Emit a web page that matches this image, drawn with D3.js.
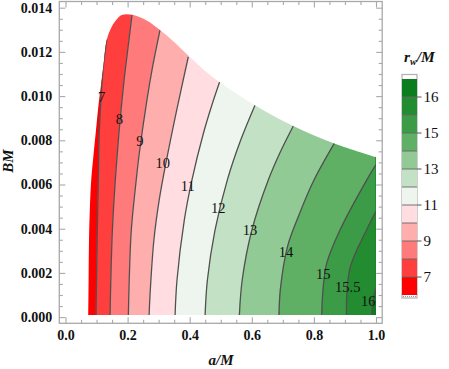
<!DOCTYPE html>
<html><head><meta charset="utf-8">
<script src="https://cdn.jsdelivr.net/npm/d3@7"></script>
<style>body{margin:0;background:#fff} svg{display:block}</style>
</head><body><svg id="c" width="449" height="369"></svg>
<script>
// ---------- data ----------
const levels = [7, 8, 9, 10, 11, 12, 13, 14, 15, 15.5, 16];
const bandColors = ["#FF0000","#FF3E3E","#FF7A7A","#FFAEAE","#FFDDE0","#EEF5EE",
                    "#C3E2C5","#92CA95","#5FAF65","#3C9B47","#238C31","#0B7D1F"];
// domain edge (left + top boundary), [a/M, BM]
const regionEdge = [[0.0734,0.0001],[0.0744,0.00168],[0.0757,0.00349],[0.0783,0.00485],
  [0.0828,0.0062],[0.0902,0.00734],[0.0982,0.00847],[0.1063,0.0096],[0.1143,0.0105],
  [0.1224,0.01141],[0.1327,0.01254],[0.1488,0.01314],[0.1659,0.01349],[0.1810,0.01367],
  [0.2184,0.01367],[0.2615,0.01342],[0.3043,0.01299],[0.3462,0.01249],[0.3903,0.01191],
  [0.4654,0.01096],[0.6103,0.00959],[0.7337,0.00865],[0.8657,0.00786],[1.0,0.00724]];
const regionBottom = 0.0001;
const contour7  = [[0.0982,0],[0.1014,0.00304],[0.1056,0.0062],[0.1079,0.00801],[0.1121,0.00937],
                   [0.1166,0.01043],[0.1217,0.01133],[0.1327,0.01257]];
const contour8  = [[0.1433,0],[0.1459,0.00168],[0.1510,0.00394],[0.1604,0.0062],[0.1720,0.00833],
                   [0.1829,0.00996],[0.1916,0.01109],[0.2023,0.01231],[0.2142,0.01367]];
const contour9  = [[0.2023,0],[0.2052,0.00168],[0.2119,0.00394],[0.2277,0.0062],[0.2390,0.00756],
                   [0.2622,0.00982],[0.2805,0.01133],[0.3043,0.01299]];
const contour10 = [[0.2689,0],[0.2731,0.00123],[0.2847,0.00349],[0.3018,0.0053],[0.3253,0.00711],
                   [0.3581,0.00937],[0.3955,0.01178]];
const contour11 = [[0.3527,0],[0.3591,0.00168],[0.3826,0.00439],[0.4071,0.0062],[0.4444,0.00833],
                   [0.4715,0.0096],[0.4969,0.01066]];
const contour12 = [[0.4493,0],[0.4570,0.00168],[0.4815,0.00394],[0.5211,0.0062],[0.5643,0.00801],[0.6103,0.00959]];
const contour13 = [[0.5597,0],[0.5691,0.00168],[0.6003,0.00394],[0.6531,0.0062],[0.6918,0.00747],[0.7337,0.00865]];
const contour14 = [[0.6876,0],[0.6918,0.00123],[0.7150,0.00319],[0.7520,0.00462],[0.8003,0.0062],[0.8657,0.00786]];
const contour15 = [[0.8251,0],[0.8293,0.00123],[0.8412,0.00243],[0.8841,0.00394],[0.9700,0.0062],[1.0,0.0069]];
const contour155= [[0.9050,0],[0.9066,0.00123],[0.9163,0.00222],[0.9340,0.0029],[0.9539,0.00349],
                   [0.9742,0.00408],[1.0,0.0048]];
const contour16 = [[0.9858,0],[0.9903,0.00078],[1.0,0.00132]];
const labelText = ["7","8","9","10","11","12","13","14","15","15.5","16"];
const labelA = [0.1166,0.1733,0.2399,0.3130,0.3936,0.4921,0.5942,0.7101,0.8303,0.9089,0.9752];
const labelB = [0.00995,0.00896,0.00798,0.00696,0.00593,0.00492,0.00394,0.00296,0.00195,0.00135,0.00074];
const aTicks = [0, 0.2, 0.4, 0.6, 0.8, 1.0];
const bTicks = [0, 0.002, 0.004, 0.006, 0.008, 0.010, 0.012, 0.014];
const legendTicks = [7, 9, 11, 13, 15, 16];

// ---------- drawing ----------
const contours = [contour7,contour8,contour9,contour10,contour11,contour12,contour13,contour14,contour15,contour155,contour16];
const svg = d3.select("#c");
const F = {l:59.3, r:382.2, t:1.5, b:323.3};
const x = d3.scaleLinear().domain([-0.02,1.02]).range([F.l,F.r]);
const y = d3.scaleLinear().domain([-0.00028,0.01428]).range([F.b,F.t]);
const line = d3.line().x(d=>x(d[0])).y(d=>y(d[1])).curve(d3.curveCatmullRom.alpha(0.5));

const regionPath = line(regionEdge) + `L${x(1)},${y(regionBottom)}L${x(regionEdge[0][0])},${y(regionBottom)}Z`;
svg.append("defs").append("clipPath").attr("id","reg").append("path").attr("d",regionPath);

const g = svg.append("g").attr("clip-path","url(#reg)");
const lastPt = c => c[c.length-1];
const rev = c => line(c.slice().reverse()).replace(/^M/,"L");
const bandPaths = [];
bandPaths.push(line(contour7) + `L-50,${y(lastPt(contour7)[1])}L-50,400L${x(contour7[0][0])},400Z`);
for (let i=1;i<contours.length;i++){
  const L = contours[i-1], R = contours[i];
  bandPaths.push(line(L) + `L${x(lastPt(L)[0])},-50L${x(lastPt(R)[0])},-50` + rev(R) +
     `L${x(R[0][0])},400L${x(L[0][0])},400Z`);
}
bandPaths.push(line(contour16) + `L${x(lastPt(contour16)[0])},-50L500,-50L500,400L${x(contour16[0][0])},400Z`);
g.selectAll("path.band").data(bandPaths).join("path").attr("class","band")
  .attr("d",d=>d).attr("fill",(d,i)=>bandColors[i]).attr("stroke",(d,i)=>bandColors[i]).attr("stroke-width",0.5);
g.selectAll("path.cl").data(contours).join("path").attr("class","cl")
  .attr("d",line).attr("fill","none").attr("stroke","#505050").attr("stroke-width",1.3);

svg.selectAll("text.lab").data(labelText).join("text").attr("class","lab")
  .attr("x",(d,i)=>x(labelA[i])).attr("y",(d,i)=>y(labelB[i])).attr("dy","0.35em")
  .attr("text-anchor","middle").attr("font-family","Liberation Serif").attr("font-size",14.5)
  .attr("fill","#111").text(d=>d);

const frameColor = "#a8a8a8";
svg.append("rect").attr("x",F.l).attr("y",F.t).attr("width",F.r-F.l).attr("height",F.b-F.t)
  .attr("fill","none").attr("stroke",frameColor).attr("stroke-width",1.3);

function ticks(axis, tr, vals, size, fmt){
  const a = svg.append("g").attr("transform",tr).call(axis.tickValues(vals).tickSize(size).tickPadding(7).tickFormat(fmt));
  a.select(".domain").remove();
  a.selectAll(".tick line").attr("stroke",frameColor).attr("stroke-width",1.1);
  a.selectAll("text").attr("font-family","Liberation Serif").attr("font-weight","bold").attr("font-size",14).attr("fill","#111");
  return a;
}
const aMinor = d3.range(0,1.0001,0.05).map(v=>+v.toFixed(3)).filter(v=>!aTicks.some(t=>Math.abs(t-v)<1e-6));
const bMinor = d3.range(0,0.01401,0.0005).map(v=>+v.toFixed(5)).filter(v=>!bTicks.some(t=>Math.abs(t-v)<1e-7));
const none = ()=>"";
ticks(d3.axisBottom(x), `translate(0,${F.b})`, aTicks, -6, d=>d.toFixed(1));
ticks(d3.axisBottom(x), `translate(0,${F.b})`, aMinor, -3.5, none);
ticks(d3.axisTop(x), `translate(0,${F.t})`, aTicks, -6, none);
ticks(d3.axisTop(x), `translate(0,${F.t})`, aMinor, -3.5, none);
ticks(d3.axisLeft(y), `translate(${F.l},0)`, bTicks, -6, d=>d.toFixed(3));
ticks(d3.axisLeft(y), `translate(${F.l},0)`, bMinor, -3.5, none);
ticks(d3.axisRight(y), `translate(${F.r},0)`, bTicks, -6, none);
ticks(d3.axisRight(y), `translate(${F.r},0)`, bMinor, -3.5, none);
svg.selectAll("g .tick text").filter(function(){return this.textContent==="";}).remove();

svg.append("text").attr("transform","translate(13,161) rotate(-90)").attr("text-anchor","middle")
  .attr("font-family","Liberation Serif").attr("font-weight","bold").attr("font-style","italic")
  .attr("font-size",15).attr("fill","#111").text("BM");
svg.append("text").attr("x",221).attr("y",365).attr("text-anchor","middle")
  .attr("font-family","Liberation Serif").attr("font-weight","bold").attr("font-style","italic")
  .attr("font-size",15).attr("fill","#111").text("a/M");

const LX = 402, LW = 15;
const ly = d3.scaleLinear().domain([0,bandColors.length]).range([295,79]);
const lg = svg.append("g");
lg.append("rect").attr("x",LX).attr("y",74.5).attr("width",LW).attr("height",223.5)
  .attr("fill","#fff").attr("stroke","#b0b0b0").attr("stroke-width",1.2);
lg.selectAll("rect.lb").data(bandColors).join("rect").attr("class","lb")
  .attr("x",LX).attr("width",LW).attr("y",(d,i)=>ly(i+1)).attr("height",(d,i)=>ly(i)-ly(i+1)).attr("fill",d=>d);
lg.selectAll("line.sep").data(levels).join("line").attr("class","sep")
  .attr("x1",LX).attr("x2",LX+LW).attr("y1",(d,i)=>ly(i+1)).attr("y2",(d,i)=>ly(i+1))
  .attr("stroke","#666").attr("stroke-width",0.9);
lg.append("line").attr("x1",LX+1).attr("x2",LX+LW-1).attr("y1",296.5).attr("y2",296.5)
  .attr("stroke","#999").attr("stroke-dasharray","1,1");
const lt = lg.selectAll("g.lt").data(legendTicks).join("g").attr("class","lt")
  .attr("transform",d=>`translate(${LX+LW},${ly(levels.indexOf(d)+1)})`);
lt.append("line").attr("x1",0).attr("x2",4.5).attr("stroke","#555").attr("stroke-width",1);
lt.append("text").attr("x",6.5).attr("dy","0.35em").attr("font-family","Liberation Serif")
  .attr("font-size",15).attr("fill","#111").text(d=>d);
const tt = lg.append("text").attr("x",404).attr("y",62).attr("font-family","Liberation Serif")
  .attr("font-weight","bold").attr("font-style","italic").attr("font-size",15.5).attr("fill","#111");
tt.append("tspan").text("r");
tt.append("tspan").attr("font-size",10).attr("dy",3).text("w");
tt.append("tspan").attr("dy",-3).text("/M");
</script></body></html>
